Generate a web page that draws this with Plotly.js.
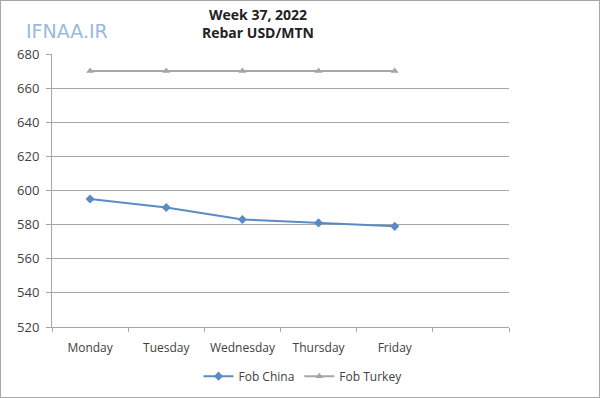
<!DOCTYPE html>
<html><head><meta charset="utf-8">
<script src="https://cdn.plot.ly/plotly-3.0.1.min.js"></script>
<style>html,body{margin:0;padding:0;background:#fff;}
#chart{width:598px;height:396px;border:1px solid #a6a6a6;}</style>
</head><body><div id="chart"></div>
<script>
const days = ["Monday","Tuesday","Wednesday","Thursday","Friday"];
const allCats = ["Monday","Tuesday","Wednesday","Thursday","Friday"," "];
const fobChina = [595, 590, 583, 581, 579];
const fobTurkey = [670, 670, 670, 670, 670];
const yTicks = [520,540,560,580,600,620,640,660,680];

const fam = "Open Sans, Liberation Sans, sans-serif";
const traces = [
 {x:days, y:fobChina, name:"Fob China", type:"scatter", mode:"lines+markers",
  line:{color:"#5b8bc5", width:2}, marker:{symbol:"diamond", size:7, color:"#5b8bc5"}},
 {x:days, y:fobTurkey, name:"Fob Turkey", type:"scatter", mode:"lines+markers",
  line:{color:"#a6a6a6", width:2}, marker:{symbol:"triangle-up", size:7, color:"#a6a6a6"}}
];
const layout = {
 width:598, height:396,
 margin:{l:51, r:90, t:53, b:70, autoexpand:false},
 paper_bgcolor:"#fff", plot_bgcolor:"#fff",
 font:{family:fam, size:12, color:"#404040"},
 showlegend:true,
 legend:{orientation:"h", x:(303-52)/457, xanchor:"center", y:-0.18, yanchor:"middle",
   font:{family:fam,size:12,color:"#404040"}},
 xaxis:{type:"category", categoryorder:"array", categoryarray:allCats, range:[-0.5,5.5],
   tickson:"boundaries", ticks:"outside", ticklen:4, tickcolor:"#a6a6a6",
   showline:true, linecolor:"#a6a6a6", linewidth:1, showgrid:false, zeroline:false,
   ticklabelstandoff:10,
   tickfont:{family:fam,size:12,color:"#404040"}},
 yaxis:{range:[520,680], tickvals:yTicks, ticks:"outside", ticklen:5, tickcolor:"#a6a6a6",
   showline:true, linecolor:"#a6a6a6", linewidth:1, showgrid:true, gridcolor:"#a6a6a6", gridwidth:1,
   zeroline:false, ticklabelstandoff:4, tickfont:{family:fam,size:13,color:"#404040"}},
 annotations:[
  {xref:"paper", yref:"paper", x:(258-52)/457, y:1.145, yanchor:"middle", showarrow:false,
   text:"<b>Week 37, 2022</b>", font:{family:fam, size:14, color:"#222"}},
  {xref:"paper", yref:"paper", x:(258-52)/457, y:1.08, yanchor:"middle", showarrow:false,
   text:"<b>Rebar USD/MTN</b>", font:{family:fam, size:14, color:"#222"}},
  {xref:"paper", yref:"paper", x:(67-52)/457, y:1.085, xanchor:"center", yanchor:"middle", showarrow:false,
   text:"IFNAA.IR", font:{family:"DejaVu Sans, sans-serif", size:19, color:"#9ab8e0"}}
 ]
};
Plotly.newPlot("chart", traces, layout, {displayModeBar:false, staticPlot:true});
</script></body></html>
